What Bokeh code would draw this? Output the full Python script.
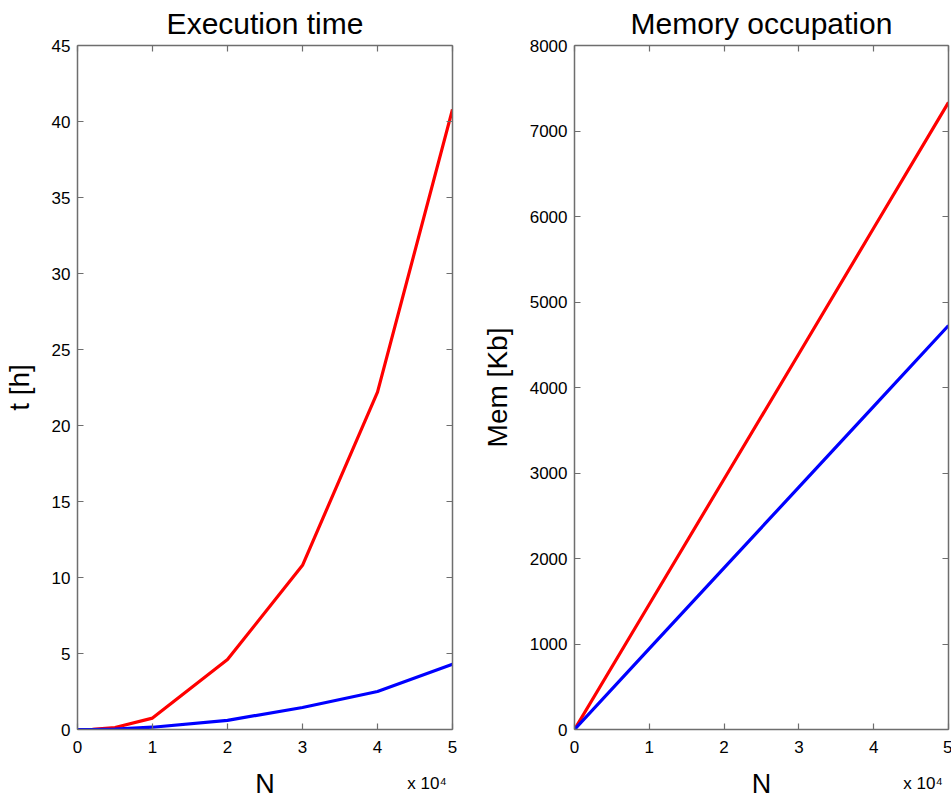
from bokeh.plotting import figure
from bokeh.layouts import row
from bokeh.models import Range1d, LinearAxis, FixedTicker, CustomJSTickFormatter
from bokeh.embed import file_html
from bokeh.resources import INLINE

# ---- data ----
N_time = [0, 1000, 2000, 5000, 10000, 20000, 30000, 40000, 50000]
time_red = [0.0, 0.0, 0.01, 0.13, 0.75, 4.6, 10.8, 22.2, 40.8]
time_blue = [0.0, 0.0, 0.0, 0.02, 0.15, 0.6, 1.45, 2.5, 4.3]

N_mem = [0, 10000, 20000, 30000, 40000, 50000]
mem_red = [0, 1465, 2930, 4395, 5865, 7335]
mem_blue = [0, 945, 1890, 2835, 3780, 4725]

x_ticks = [0, 10000, 20000, 30000, 40000, 50000]
time_ticks = [0, 5, 10, 15, 20, 25, 30, 35, 40, 45]
mem_ticks = [0, 1000, 2000, 3000, 4000, 5000, 6000, 7000, 8000]

titles = ["Execution time", "Memory occupation"]
y_labels = ["t [h]", "Mem [Kb]"]
x_label = "N"
multiplier = "x 10\u2074"
# invisible en-space padding so the centred label's visible part ends at the axis end
MULT_PAD = "\u2002" * 6

FONT = "Liberation Sans"
AXIS_COLOR = "#6e6e6e"
RED = "#ff0000"
BLUE = "#0000ff"
FRAME_H = 684


def style_axis(ax, show_labels):
    ax.axis_line_color = AXIS_COLOR
    ax.axis_line_width = 1.5
    ax.major_tick_line_color = AXIS_COLOR
    ax.major_tick_line_width = 1.2
    ax.major_tick_in = 6
    ax.major_tick_out = 0
    ax.minor_tick_in = 0
    ax.minor_tick_out = 0
    ax.major_label_text_font = FONT
    ax.major_label_text_font_size = "17px"
    ax.major_label_text_color = "black"
    if not show_labels:
        ax.major_label_standoff = 0
        ax.formatter = CustomJSTickFormatter(code="return ''")


def make_panel(title, ylabel, xs, series, yticks, ymax, bl, br, fw, ylab_standoff):
    p = figure(frame_width=fw, frame_height=FRAME_H,
               x_range=Range1d(0, 50000), y_range=Range1d(0, ymax),
               output_backend="svg", toolbar_location=None,
               min_border_left=bl, min_border_right=br,
               min_border_top=45, min_border_bottom=60)
    p.background_fill_color = "white"
    p.border_fill_color = "white"
    p.outline_line_color = None
    p.grid.visible = False

    p.title.text = title
    p.title.text_font = FONT
    p.title.text_font_size = "30px"
    p.title.text_font_style = "normal"
    p.title.text_color = "black"
    p.title.align = "center"
    p.title.vertical_align = "top"
    p.title.standoff = 7

    for ys, col in series:
        p.line(xs, ys, line_color=col, line_width=3.2)

    xa = p.xaxis[0]
    xa.ticker = FixedTicker(ticks=x_ticks)
    xa.formatter = CustomJSTickFormatter(code="return (tick/1e4).toFixed(0)")
    style_axis(xa, True)
    xa.major_label_standoff = 11
    xa.axis_label = x_label
    xa.axis_label_text_font = FONT
    xa.axis_label_text_font_size = "27px"
    xa.axis_label_text_font_style = "normal"
    xa.axis_label_text_color = "black"
    xa.axis_label_standoff = 13

    ya = p.yaxis[0]
    ya.ticker = FixedTicker(ticks=yticks)
    style_axis(ya, True)
    ya.major_label_standoff = 7
    ya.axis_label = ylabel
    ya.axis_label_text_font = FONT
    ya.axis_label_text_font_size = "28px"
    ya.axis_label_text_font_style = "normal"
    ya.axis_label_text_color = "black"
    ya.axis_label_standoff = ylab_standoff

    top = LinearAxis(ticker=FixedTicker(ticks=x_ticks))
    style_axis(top, False)
    p.add_layout(top, "above")
    right = LinearAxis(ticker=FixedTicker(ticks=yticks))
    style_axis(right, False)
    p.add_layout(right, "right")

    # "x 10^4" multiplier: label of an extra, invisible axis below
    mult = LinearAxis(ticker=FixedTicker(ticks=[]))
    mult.axis_line_color = None
    mult.major_tick_line_color = None
    mult.minor_tick_line_color = None
    mult.major_tick_in = 0
    mult.major_tick_out = 0
    mult.major_label_standoff = 0
    mult.formatter = CustomJSTickFormatter(code="return ''")
    mult.axis_label = multiplier + MULT_PAD
    mult.axis_label_text_font = FONT
    mult.axis_label_text_font_size = "17px"
    mult.axis_label_text_font_style = "normal"
    mult.axis_label_text_color = "black"
    mult.axis_label_align = "end"
    mult.axis_label_standoff = -28
    p.add_layout(mult, "below")
    return p


p1 = make_panel(titles[0], y_labels[0], N_time,
                [(time_red, RED), (time_blue, BLUE)],
                time_ticks, 45, 76, 26, 375, 14)
p2 = make_panel(titles[1], y_labels[1], N_mem,
                [(mem_red, RED), (mem_blue, BLUE)],
                mem_ticks, 8000, 94, 4, 374, 14)

layout = row(p1, p2)
open("out.html", "w").write(file_html(layout, INLINE))
